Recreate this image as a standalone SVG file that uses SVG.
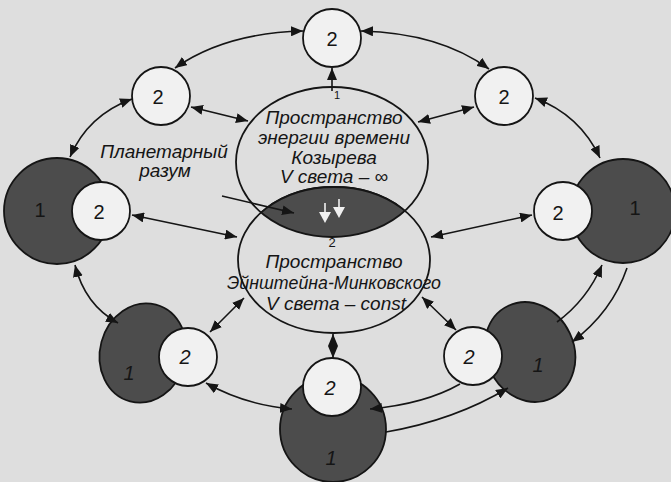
<svg xmlns="http://www.w3.org/2000/svg" width="671" height="482" viewBox="0 0 671 482">
<style>
.bg{fill:#dedede}
.dark{fill:#4c4c4c;stroke:#151515;stroke-width:1.8}
.white{fill:#f1f1f1;stroke:#151515;stroke-width:1.8}
.ell{fill:none;stroke:#151515;stroke-width:1.8}
.con{fill:none;stroke:#151515;stroke-width:1.6}
.num{font-family:"Liberation Sans",Arial,sans-serif;font-size:20px;fill:#151515;text-anchor:middle}
.it{font-style:italic}
.lbl{font-family:"Liberation Sans",Arial,sans-serif;font-style:italic;font-size:19px;fill:#151515;text-anchor:middle}
</style>
<defs>
<marker id="a" viewBox="0 0 12 10" refX="12" refY="5" markerWidth="12" markerHeight="10" markerUnits="userSpaceOnUse" orient="auto-start-reverse">
<path d="M0,0 L12,5 L0,10 Z" fill="#151515"/>
</marker>
<clipPath id="topClip"><ellipse cx="332" cy="162" rx="96" ry="75"/></clipPath>
</defs>
<rect class="bg" x="0" y="0" width="671" height="482"/>

<g id="node-left">
<circle class="dark" cx="57" cy="211" r="53"/>
<circle class="white" cx="101" cy="211" r="29"/>
<text class="num" x="40" y="217">1</text>
<text class="num" x="99" y="219">2</text>
</g>
<g id="node-right">
<circle class="dark" cx="623" cy="211" r="52"/>
<circle class="white" cx="563" cy="211" r="29"/>
<text class="num" x="635" y="215">1</text>
<text class="num" x="558" y="220">2</text>
</g>
<g id="node-bottom-left">
<ellipse class="dark" cx="143" cy="353" rx="43" ry="50" transform="rotate(15 143 353)"/>
<circle class="white" cx="188" cy="357" r="29"/>
<text class="num it" x="129" y="380">1</text>
<text class="num it" x="185" y="364">2</text>
</g>
<g id="node-bottom">
<circle class="dark" cx="333" cy="429" r="53"/>
<circle class="white" cx="332" cy="387" r="29"/>
<text class="num it" x="331" y="465">1</text>
<text class="num it" x="330" y="395">2</text>
</g>
<g id="node-bottom-right">
<ellipse class="dark" cx="530" cy="352" rx="44" ry="51" transform="rotate(-25 530 352)"/>
<circle class="white" cx="473" cy="356" r="29"/>
<text class="num it" x="538" y="372">1</text>
<text class="num it" x="469" y="364">2</text>
</g>
<g id="node-top">
<circle class="white" cx="332" cy="38" r="29"/>
<text class="num" x="332" y="46">2</text>
</g>
<g id="node-upper-left">
<circle class="white" cx="161" cy="96" r="29"/>
<text class="num" x="158" y="104">2</text>
</g>
<g id="node-upper-right">
<circle class="white" cx="504" cy="96" r="29"/>
<text class="num" x="504" y="104">2</text>
</g>

<g id="node-einstein">
<ellipse class="ell" cx="334" cy="260" rx="96" ry="73"/>
<text class="lbl" x="334" y="268">Пространство</text>
<text class="lbl" x="334" y="289" textLength="214" lengthAdjust="spacingAndGlyphs">Эйнштейна-Минковского</text>
<text class="lbl" x="336" y="310">V света – const</text>
</g>
<g id="node-lens">
<ellipse cx="334" cy="260" rx="96" ry="73" fill="#4c4c4c" stroke="#151515" stroke-width="1.8" clip-path="url(#topClip)"/>
<line x1="325" y1="203" x2="325" y2="213" stroke="#f0f0f0" stroke-width="1.6"/>
<path d="M319,212 L331,212 L325,223 Z" fill="#f0f0f0"/>
<line x1="339" y1="199" x2="339" y2="208" stroke="#f0f0f0" stroke-width="1.6"/>
<path d="M333,207 L345,207 L339,218 Z" fill="#f0f0f0"/>
<text class="num" x="332" y="247" style="font-size:13px">2</text>
</g>
<g id="node-kozyrev">
<ellipse class="ell" cx="332" cy="162" rx="96" ry="75"/>
<text class="lbl" x="334" y="124">Пространство</text>
<text class="lbl" x="334" y="144">энергии времени</text>
<text class="lbl" x="334" y="164">Козырева</text>
<text class="lbl" x="334" y="183">V света – ∞</text>
<text class="num" x="337" y="99" style="font-size:11px">1</text>
</g>
<g id="label-planetary">
<text class="lbl" x="164" y="158">Планетарный</text>
<text class="lbl" x="165" y="177">разум</text>
</g>

<g id="connectors">
<path class="con" d="M303,31 Q225,33 175,68" marker-start="url(#a)" marker-end="url(#a)"/>
<path class="con" d="M361,31 Q440,33 489,69" marker-start="url(#a)" marker-end="url(#a)"/>
<path class="con" d="M132,99 Q88,115 70,157" marker-start="url(#a)" marker-end="url(#a)"/>
<path class="con" d="M191,107 L248,121" marker-start="url(#a)" marker-end="url(#a)"/>
<path class="con" d="M474,107 L418,122" marker-start="url(#a)" marker-end="url(#a)"/>
<path class="con" d="M535,98 Q580,115 600,158" marker-start="url(#a)" marker-end="url(#a)"/>
<path class="con" d="M132,215 L237,237" marker-start="url(#a)" marker-end="url(#a)"/>
<path class="con" d="M532,215 L431,237" marker-start="url(#a)" marker-end="url(#a)"/>
<path class="con" d="M222,196 L294,213" marker-end="url(#a)"/>
<path class="con" d="M75,265 Q85,305 118,323" marker-start="url(#a)" marker-end="url(#a)"/>
<path class="con" d="M244,298 L210,332" marker-start="url(#a)" marker-end="url(#a)"/>
<path class="con" d="M422,297 L456,330" marker-start="url(#a)" marker-end="url(#a)"/>
<path class="con" d="M206,383 Q245,405 292,409" marker-start="url(#a)" marker-end="url(#a)"/>
<path class="con" d="M370,409 Q425,404 460,384" marker-start="url(#a)"/>
<path class="con" d="M386,432 Q455,420 508,388" marker-end="url(#a)"/>
<path class="con" d="M557,322 Q587,300 602,265" marker-end="url(#a)"/>
<path class="con" d="M627,268 Q612,312 572,342" marker-end="url(#a)"/>
<path class="con" d="M333,334 L333,358" marker-start="url(#a)" marker-end="url(#a)"/>
<path class="con" d="M332,91 L332,68" marker-end="url(#a)"/>
</g>
</svg>
